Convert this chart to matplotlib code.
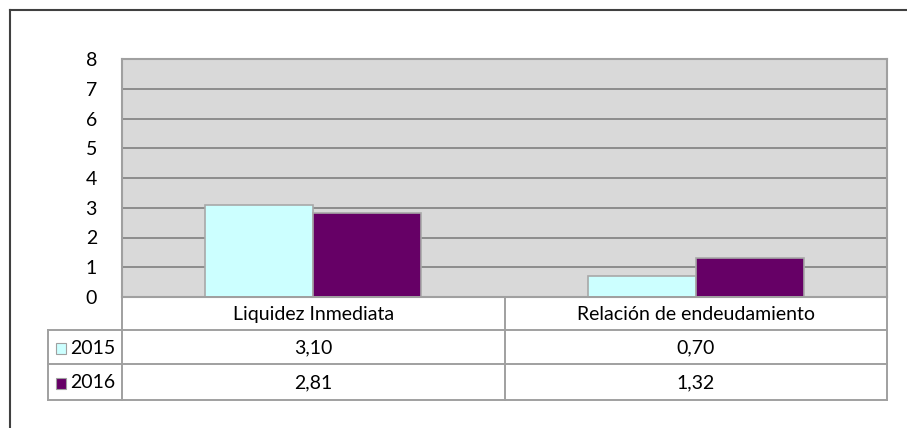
import matplotlib
matplotlib.use("Agg")
import matplotlib.pyplot as plt
from matplotlib.lines import Line2D
from matplotlib.patches import Rectangle
import numpy as np

categories = ["Liquidez Inmediata", "Relación de endeudamiento"]
series_names = ["2015", "2016"]
values_2015 = [3.10, 0.70]
values_2016 = [2.81, 1.32]
y_ticks = [0, 1, 2, 3, 4, 5, 6, 7, 8]

colors = ["#CCFFFF", "#660066"]
FONT = "Lato"
FS = 14

W, H = 907, 428
fig = plt.figure(figsize=(W / 100, H / 100), dpi=100)
fig.patch.set_facecolor("white")

def fx(px):
    return px / W

def fy(py):
    return 1 - py / H

# plot area in pixels
L, R, T, B = 122, 887, 59, 297
ax = fig.add_axes([fx(L), fy(B), fx(R) - fx(L), fy(T) - fy(B)])
ax.set_facecolor("#D9D9D9")
ax.set_xlim(0, len(categories))
ax.set_ylim(0, 8)
ax.set_yticks(y_ticks)
ax.set_yticklabels([str(t) for t in y_ticks], fontfamily=FONT, fontsize=FS)
ax.tick_params(axis="y", length=0, pad=18)
ax.set_xticks([])
for t in ax.get_yticklabels():
    t.set_horizontalalignment("right")
ax.yaxis.grid(True, color="#8C8C8C", linewidth=1.4)
ax.set_axisbelow(True)
for s in ax.spines.values():
    s.set_color("#A0A0A0")
    s.set_linewidth(1.5)

x = np.arange(len(categories)) + 0.5
bw = 0.283
ax.bar(x - bw / 2, values_2015, width=bw, color=colors[0], edgecolor="#A8A8A8", linewidth=1.2, zorder=3)
ax.bar(x + bw / 2, values_2016, width=bw, color=colors[1], edgecolor="#A8A8A8", linewidth=1.2, zorder=3)

# overlay axes for table in pixel coordinates
ov = fig.add_axes([0, 0, 1, 1])
ov.set_xlim(0, W)
ov.set_ylim(H, 0)
ov.axis("off")
ov.patch.set_alpha(0)

lc = "#A0A0A0"
lw = 1.4
mid = (L + R) / 2
rows_y = [297, 330, 364, 400]
leg_L = 48

def line(x0, y0, x1, y1, color=lc, w=lw):
    ov.add_line(Line2D([x0, x1], [y0, y1], color=color, linewidth=w, solid_capstyle="projecting"))

# horizontal lines
line(L, rows_y[0], R, rows_y[0])
line(leg_L, rows_y[1], R, rows_y[1])
line(leg_L, rows_y[2], R, rows_y[2])
line(leg_L, rows_y[3], R, rows_y[3])
# vertical lines
line(L, rows_y[0], L, rows_y[3])
line(mid, rows_y[0], mid, rows_y[3])
line(R, rows_y[0], R, rows_y[3])
line(leg_L, rows_y[1], leg_L, rows_y[3])

# header text
col_centers = [(L + mid) / 2, (mid + R) / 2]
for cx, cat in zip(col_centers, categories):
    ov.text(cx, (rows_y[0] + rows_y[1]) / 2 + 1, cat, ha="center", va="center",
            fontfamily=FONT, fontsize=FS)

series_vals = [values_2015, values_2016]
for i, (name, vals) in enumerate(zip(series_names, series_vals)):
    yc = (rows_y[i + 1] + rows_y[i + 2]) / 2 + 1
    ov.add_patch(Rectangle((56, yc - 5.5), 10, 11, facecolor=colors[i], edgecolor="#A0A0A0", linewidth=0.8))
    ov.text(70, yc, name, ha="left", va="center", fontfamily=FONT, fontsize=FS)
    for cx, v in zip(col_centers, vals):
        ov.text(cx, yc, f"{v:.2f}".replace(".", ","), ha="center", va="center",
                fontfamily=FONT, fontsize=FS)

# outer chart border (left and top visible)
line(9.5, 9.5, W + 5, 9.5, color="#404040", w=1.5)
line(9.5, 9.5, 9.5, H + 5, color="#404040", w=1.5)

fig.savefig("out.png", dpi=100, facecolor="white")
